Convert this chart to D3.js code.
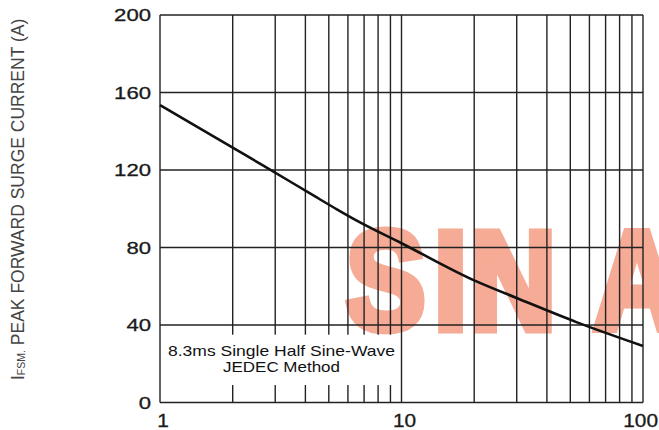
<!DOCTYPE html>
<html>
<head>
<meta charset="utf-8">
<script src="https://cdn.jsdelivr.net/npm/d3@7"></script>
<style>
  html, body { margin: 0; padding: 0; background: #fff; }
  svg { display: block; font-family: "Liberation Sans", Arial, sans-serif; }
</style>
</head>
<body>
<svg id="chart" width="659" height="430"></svg>
<script>
// values
const xGrid = [1, 2, 3, 4, 5, 6, 7, 8, 9, 10, 20, 30, 40, 50, 60, 70, 80, 90, 100];
const xLabels = [1, 10, 100];
const yTicks = [0, 40, 80, 120, 160, 200];
const cycles = [1, 2, 2.7, 4.3, 5.4, 6.5, 10, 20, 31, 53, 100];
const surge = [153.5, 131.5, 122, 107, 99.7, 94, 82.2, 63, 53.2, 41.5, 29.2];
const noteLines = ['8.3ms Single Half Sine-Wave', 'JEDEC Method'];

const svg = d3.select('#chart');
const W = 659, H = 430;
const x = d3.scaleLog().domain([1, 100]).range([160, 643]);
const y = d3.scaleLinear().domain([0, 200]).range([402.5, 15]);

svg.append('rect').attr('width', W).attr('height', H).attr('fill', '#fff');

// watermark, letters placed one by one, squeezed and thickened
const sx = 0.85;
svg.append('text')
  .attr('transform', `scale(${sx},1)`)
  .attr('x', [346, 434, 470, 594].map(v => v / sx).join(' '))
  .attr('y', 329)
  .attr('font-size', 140).attr('font-weight', 'bold')
  .attr('fill', '#f5ab95')
  .attr('stroke', '#f5ab95').attr('stroke-width', 9).attr('stroke-linejoin', 'miter')
  .text('SINA');

const grid = svg.append('g').attr('stroke', '#222').attr('stroke-width', 1.4);
grid.selectAll('line.v').data(xGrid).join('line')
  .attr('class', 'v')
  .attr('x1', d => x(d)).attr('x2', d => x(d))
  .attr('y1', y(200)).attr('y2', y(0));
grid.selectAll('line.h').data(yTicks).join('line')
  .attr('class', 'h')
  .attr('x1', x(1)).attr('x2', x(100))
  .attr('y1', d => y(d)).attr('y2', d => y(d));

// note box
svg.append('rect')
  .attr('x', x(1) + 1).attr('y', y(35))
  .attr('width', x(9.5) - x(1) - 1).attr('height', y(9) - y(35))
  .attr('fill', '#fff');
svg.append('text')
  .attr('x', 168).attr('y', 356)
  .attr('font-size', 15).attr('fill', '#111')
  .attr('textLength', 227).attr('lengthAdjust', 'spacingAndGlyphs')
  .text(noteLines[0]);
svg.append('text')
  .attr('x', 223).attr('y', 371.5)
  .attr('font-size', 15).attr('fill', '#111')
  .attr('textLength', 117).attr('lengthAdjust', 'spacingAndGlyphs')
  .text(noteLines[1]);

// curve
const line = d3.line().x(d => x(d[0])).y(d => y(d[1])).curve(d3.curveMonotoneX);
svg.append('path')
  .datum(cycles.map((c, i) => [c, surge[i]]))
  .attr('d', line)
  .attr('fill', 'none')
  .attr('stroke', '#111')
  .attr('stroke-width', 2.6);

// tick labels
svg.append('g').selectAll('text').data(yTicks).join('text')
  .attr('x', 151).attr('y', d => y(d) + 6)
  .attr('text-anchor', 'end')
  .attr('font-size', 16.5).attr('fill', '#1a1a1a')
  .attr('stroke', '#1a1a1a').attr('stroke-width', 0.3)
  .attr('textLength', d => String(d).length * 12.3)
  .attr('lengthAdjust', 'spacingAndGlyphs')
  .text(d => d);

svg.append('g').selectAll('text').data(xLabels).join('text')
  .attr('x', d => Math.min(x(d) + 3, W - String(d).length * 5.8 - 1))
  .attr('y', 427)
  .attr('text-anchor', 'middle')
  .attr('font-size', 17.5).attr('fill', '#1a1a1a')
  .attr('stroke', '#1a1a1a').attr('stroke-width', 0.3)
  .attr('textLength', d => String(d).length * 11.6)
  .attr('lengthAdjust', 'spacingAndGlyphs')
  .text(d => d);

// y axis title
const title = svg.append('text')
  .attr('transform', 'translate(24,380) rotate(-90)')
  .attr('font-size', 17.5).attr('fill', '#444');
title.append('tspan').text('I');
title.append('tspan').attr('font-size', 10.5).attr('dy', 1).text('FSM.');
title.append('tspan').attr('dy', -1).text(' PEAK FORWARD SURGE CURRENT (A)');
</script>
</body>
</html>
